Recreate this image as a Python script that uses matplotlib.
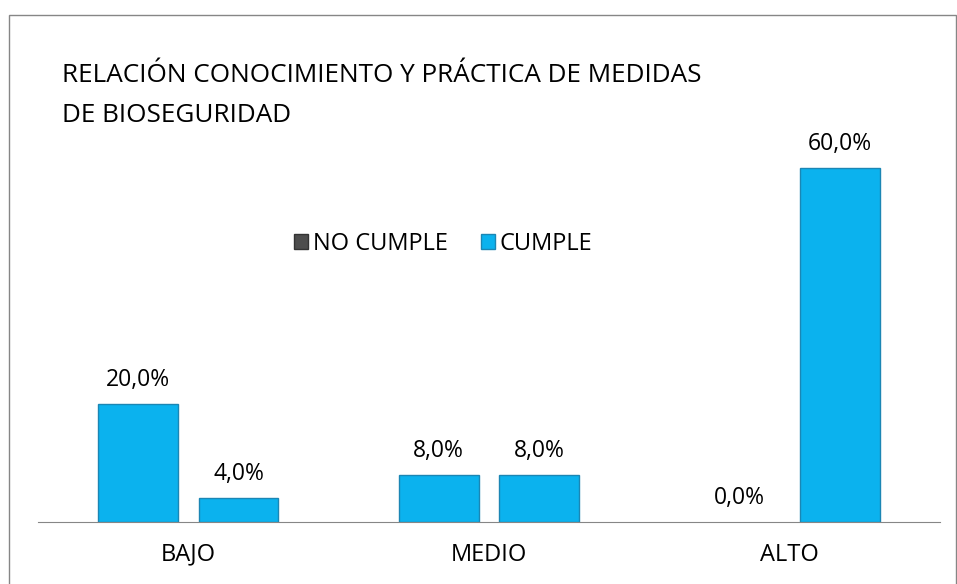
import numpy as np
import matplotlib.pyplot as plt
from matplotlib.patches import Rectangle, Patch

categories = ["BAJO", "MEDIO", "ALTO"]
series_names = ["NO CUMPLE", "CUMPLE"]
no_cumple = [20.0, 8.0, 0.0]
cumple = [4.0, 8.0, 60.0]

blue = "#0BB2EE"
edge = "#1B86B4"

plt.rcParams['font.family'] = ['Open Sans', 'DejaVu Sans']

fig = plt.figure(figsize=(9.57, 5.84), dpi=100)
fig.patch.set_facecolor("white")

# outer chart frame
fig.patches.append(Rectangle((9 / 957, -0.01), 947 / 957, 1 - 15 / 584 + 0.01,
                             transform=fig.transFigure, fill=False,
                             edgecolor="#868686", lw=1.0))

ax = fig.add_axes([38 / 957, 62 / 584, 902 / 957, 413 / 584])

x = np.arange(len(categories))
w = 0.265
off = 0.167

b1 = ax.bar(x - off, no_cumple, w, color=blue, edgecolor=edge,
            lw=[1.0 if v > 0 else 0 for v in no_cumple])
b2 = ax.bar(x + off, cumple, w, color=blue, edgecolor=edge,
            lw=[1.0 if v > 0 else 0 for v in cumple])

for bars, vals in [(b1, no_cumple), (b2, cumple)]:
    for r, v in zip(bars, vals):
        ax.text(r.get_x() + r.get_width() / 2, v + 4.1,
                f"{v:.1f}".replace(".", ",") + "%",
                ha="center", va="center", fontsize=16.5)

ax.set_xlim(-0.5, 2.5)
ax.set_ylim(0, 70)
ax.set_yticks([])
ax.set_xticks(x)
ax.set_xticklabels(categories, fontsize=17)
ax.tick_params(axis="x", length=0, pad=15)
for s in ["top", "right", "left"]:
    ax.spines[s].set_visible(False)
ax.spines["bottom"].set_color("#868686")

handles = [Patch(facecolor="#4D4D4D", edgecolor="#333333"),
           Patch(facecolor=blue, edgecolor=edge)]
fig.legend(handles, series_names, loc="center", bbox_to_anchor=(443 / 957, 1 - 244 / 584),
           ncol=2, frameon=False, fontsize=17, handlelength=0.6, handleheight=0.6,
           handletextpad=0.2, columnspacing=1.4)

fig.text(62 / 957, 1 - 76 / 584, "RELACIÓN CONOCIMIENTO Y PRÁCTICA DE MEDIDAS",
         fontsize=18.8, va="center")
fig.text(62 / 957, 1 - 116 / 584, "DE BIOSEGURIDAD", fontsize=18.8, va="center")

fig.savefig("out.png", dpi=100)
